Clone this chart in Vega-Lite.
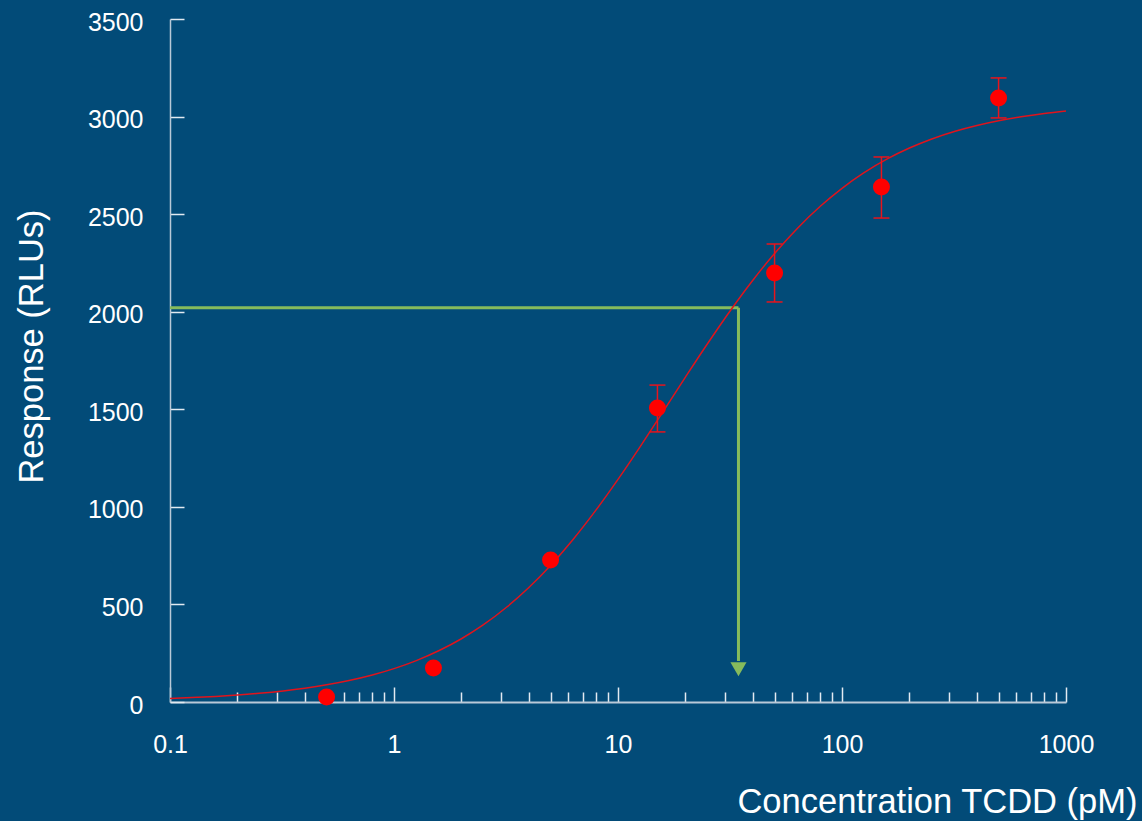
{
  "$schema": "https://vega.github.io/schema/vega-lite/v6.json",
  "width": 896,
  "height": 683,
  "autosize": {"type": "none"},
  "padding": {"left": 170, "top": 19, "right": 76, "bottom": 119},
  "background": "#024b78",
  "config": {"view": {"stroke": null}, "font": "Liberation Sans"},
  "datasets": {
    "curve": [
      {"x": 0.1, "y": 18.01}, {"x": 0.125, "y": 22.48}, {"x": 0.16, "y": 28.72}, {"x": 0.2, "y": 35.81},
      {"x": 0.25, "y": 44.64}, {"x": 0.32, "y": 56.91}, {"x": 0.4, "y": 70.8}, {"x": 0.5, "y": 88.0},
      {"x": 0.63, "y": 110.06}, {"x": 0.8, "y": 138.43}, {"x": 1, "y": 171.11}, {"x": 1.25, "y": 210.96},
      {"x": 1.6, "y": 264.95}, {"x": 2, "y": 324.21}, {"x": 2.5, "y": 394.87}, {"x": 3.2, "y": 487.92},
      {"x": 4, "y": 586.67}, {"x": 5, "y": 700.0}, {"x": 6.3, "y": 832.79}, {"x": 8, "y": 985.6},
      {"x": 10, "y": 1140.74}, {"x": 12.5, "y": 1305.08}, {"x": 16, "y": 1493.33}, {"x": 20, "y": 1664.86},
      {"x": 25, "y": 1833.33}, {"x": 32, "y": 2011.43}, {"x": 40, "y": 2161.4}, {"x": 50, "y": 2298.51},
      {"x": 63, "y": 2425.5}, {"x": 80, "y": 2540.21}, {"x": 100, "y": 2632.48}, {"x": 125, "y": 2711.27},
      {"x": 160, "y": 2784.18}, {"x": 200, "y": 2838.71}, {"x": 250, "y": 2883.9}, {"x": 320, "y": 2924.63},
      {"x": 400, "y": 2954.44}, {"x": 500, "y": 2978.72}, {"x": 630, "y": 2999.07}, {"x": 800, "y": 3015.91},
      {"x": 1000, "y": 3028.52}
    ],
    "pts": [
      {"x": 0.5, "y": 26},
      {"x": 1.5, "y": 174},
      {"x": 5, "y": 728},
      {"x": 15, "y": 1507, "lo": 1384, "hi": 1624},
      {"x": 50, "y": 2198, "lo": 2050, "hi": 2347},
      {"x": 150, "y": 2639, "lo": 2480, "hi": 2793},
      {"x": 500, "y": 3095, "lo": 2993, "hi": 3198}
    ],
    "hguide": [{"x": 0.1, "x2": 34.5, "y": 2020}],
    "vguide": [{"x": 34.5, "y": 2020, "y2": 210, "tip": 168}]
  },
  "layer": [
    {
      "data": {"name": "hguide"},
      "mark": {"type": "rule", "color": "#86bb5c", "strokeWidth": 3},
      "encoding": {
        "x": {
          "field": "x", "type": "quantitative",
          "scale": {"type": "log", "domain": [0.1, 1000], "nice": false},
          "axis": {
            "title": "Concentration TCDD (pM)",
            "values": [0.1, 0.2, 0.3, 0.4, 0.5, 0.6, 0.7, 0.8, 0.9, 1, 2, 3, 4, 5, 6, 7, 8, 9, 10, 20, 30, 40, 50, 60, 70, 80, 90, 100, 200, 300, 400, 500, 600, 700, 800, 900, 1000],
            "format": "~g",
            "labelExpr": "indexof([0.1, 1, 10, 100, 1000], datum.value) >= 0 ? datum.label : ''",
            "tickSize": {"condition": {"test": "indexof([0.1, 1, 10, 100, 1000], datum.value) >= 0", "value": -15}, "value": -10},
            "tickColor": "#e2eaf1",
            "tickWidth": 1.5,
            "domainColor": "#b9c9d8",
            "domainWidth": 2,
            "grid": false,
            "labelFlush": false,
            "labelOverlap": false,
            "labelPadding": 45,
            "labelFontSize": 25,
            "labelColor": "white",
            "labelFont": "Liberation Sans",
            "labelBaseline": "top",
            "titleFont": "Liberation Sans",
            "titleFontSize": 34.5,
            "titleFontWeight": "normal",
            "titleColor": "white",
            "titleAlign": "right",
            "titleBaseline": "alphabetic",
            "titleX": 967,
            "titleY": 110
          }
        },
        "x2": {"field": "x2"},
        "y": {
          "field": "y", "type": "quantitative",
          "scale": {"domain": [0, 3500], "nice": false, "zero": true},
          "axis": {
            "title": "Response (RLUs)",
            "values": [0, 500, 1000, 1500, 2000, 2500, 3000, 3500],
            "format": "d",
            "tickSize": -14,
            "tickColor": "#e2eaf1",
            "tickWidth": 1.5,
            "domainColor": "#b9c9d8",
            "domainWidth": 1.5,
            "grid": false,
            "labelPadding": 41,
            "labelOffset": 3,
            "labelFontSize": 25,
            "labelColor": "white",
            "labelFont": "Liberation Sans",
            "labelFlush": false,
            "labelOverlap": false,
            "titleFont": "Liberation Sans",
            "titleFontSize": 34.5,
            "titleFontWeight": "normal",
            "titleColor": "white",
            "titleAngle": -90,
            "titleAlign": "center",
            "titleBaseline": "alphabetic",
            "titleX": -128,
            "titleY": 327
          }
        }
      }
    },
    {
      "data": {"name": "vguide"},
      "mark": {"type": "rule", "color": "#86bb5c", "strokeWidth": 3},
      "encoding": {
        "x": {"field": "x", "type": "quantitative"},
        "y": {"field": "y", "type": "quantitative"},
        "y2": {"field": "y2"}
      }
    },
    {
      "data": {"name": "vguide"},
      "mark": {"type": "point", "shape": "triangle-down", "filled": true, "color": "#86bb5c", "size": 260, "opacity": 1},
      "encoding": {
        "x": {"field": "x", "type": "quantitative"},
        "y": {"field": "tip", "type": "quantitative"}
      }
    },
    {
      "data": {"name": "curve"},
      "mark": {"type": "line", "color": "#e0141c", "strokeWidth": 1.5, "interpolate": "monotone"},
      "encoding": {
        "x": {"field": "x", "type": "quantitative"},
        "y": {"field": "y", "type": "quantitative"}
      }
    },
    {
      "data": {"name": "pts"},
      "transform": [{"filter": "isValid(datum.lo)"}],
      "mark": {"type": "rule", "color": "#e8141c", "strokeWidth": 1.5},
      "encoding": {
        "x": {"field": "x", "type": "quantitative"},
        "y": {"field": "lo", "type": "quantitative"},
        "y2": {"field": "hi"}
      }
    },
    {
      "data": {"name": "pts"},
      "transform": [{"filter": "isValid(datum.lo)"}],
      "mark": {"type": "tick", "orient": "horizontal", "color": "#e8141c", "size": 16, "thickness": 1.5, "opacity": 1},
      "encoding": {
        "x": {"field": "x", "type": "quantitative"},
        "y": {"field": "lo", "type": "quantitative"}
      }
    },
    {
      "data": {"name": "pts"},
      "transform": [{"filter": "isValid(datum.hi)"}],
      "mark": {"type": "tick", "orient": "horizontal", "color": "#e8141c", "size": 16, "thickness": 1.5, "opacity": 1},
      "encoding": {
        "x": {"field": "x", "type": "quantitative"},
        "y": {"field": "hi", "type": "quantitative"}
      }
    },
    {
      "data": {"name": "pts"},
      "mark": {"type": "point", "shape": "circle", "filled": true, "color": "#ff0000", "size": 290, "opacity": 1},
      "encoding": {
        "x": {"field": "x", "type": "quantitative"},
        "y": {"field": "y", "type": "quantitative"}
      }
    }
  ]
}
